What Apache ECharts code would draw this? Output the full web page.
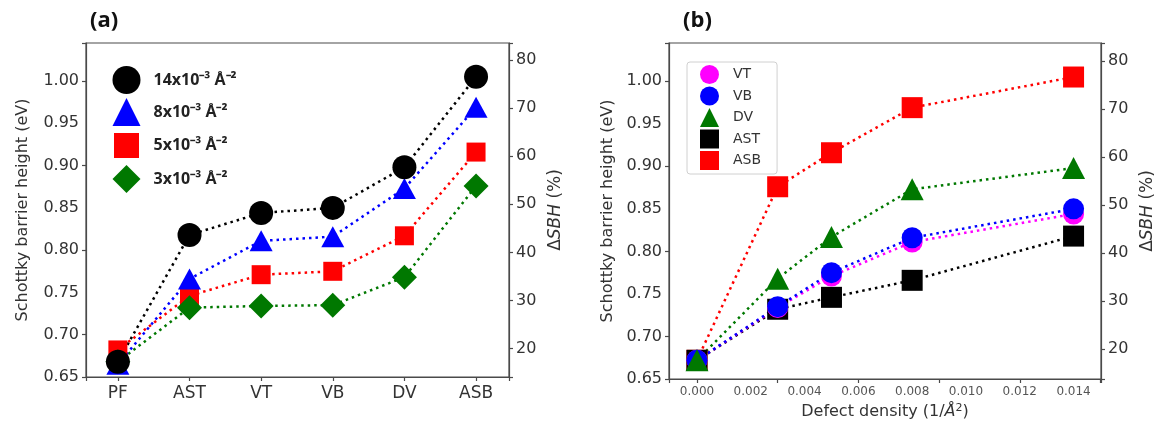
<!DOCTYPE html>
<html>
<head>
<meta charset="utf-8">
<script src="https://cdn.jsdelivr.net/npm/echarts@6/dist/echarts.min.js"></script>
<style>
html,body{margin:0;padding:0;background:#fff;}
#c{width:1157px;height:431px;}
</style>
</head>
<body>
<div id="c"></div>
<script>
// ---- Panel (a): SBH vs defect type ----
const catsA = ['PF', 'AST', 'VT', 'VB', 'DV', 'ASB'];
const a14 = [0.668, 0.818, 0.844, 0.850, 0.898, 1.005];
const a8  = [0.665, 0.766, 0.811, 0.816, 0.873, 0.969];
const a5  = [0.682, 0.746, 0.771, 0.775, 0.817, 0.916];
const a3  = [0.668, 0.732, 0.734, 0.735, 0.768, 0.876];
const namesA = ['14x10⁻³ Å⁻²', '8x10⁻³ Å⁻²', '5x10⁻³ Å⁻²', '3x10⁻³ Å⁻²'];

// ---- Panel (b): SBH vs defect density ----
const namesB = ['VT', 'VB', 'DV', 'AST', 'ASB'];
const densB = [0, 0.003, 0.005, 0.008, 0.014];
const bVT  = [0.672, 0.734, 0.771, 0.811, 0.844];
const bVB  = [0.672, 0.735, 0.775, 0.816, 0.850];
const bDV  = [0.672, 0.768, 0.817, 0.873, 0.898];
const bAST = [0.672, 0.732, 0.746, 0.766, 0.818];
const bASB = [0.672, 0.876, 0.916, 0.969, 1.005];

// tick labels
const sbhTicks = [0.65, 0.70, 0.75, 0.80, 0.85, 0.90, 0.95, 1.00];
const pctTicks = [20, 30, 40, 50, 60, 70, 80];
const densTicks = [0, 0.002, 0.004, 0.006, 0.008, 0.010, 0.012, 0.014];

const pairs = (xs, ys) => ys.map((v, i) => [xs[i], v]);
const idx = catsA.map((c, i) => i);

const FONT = '"DejaVu Sans", sans-serif';
const frameColor = '#4a4a4a';
const dotted = { width: 2.5, type: [2.5, 4], cap: 'butt' };
const RED = '#ff0000', GREEN = '#007800', BLUE = '#0000ff', BLACK = '#000000', MAGENTA = '#ff00ff';
const axLine = { show: true, onZero: false, lineStyle: { color: frameColor, width: 1.2 } };
const tick = { show: true, inside: false, length: 4, lineStyle: { color: frameColor, width: 1.2 } };

function leftAxis(gi) {
  return {
    type: 'value', gridIndex: gi, position: 'left', min: 0.65, max: 1.045,
    name: 'Schottky barrier height (eV)', nameLocation: 'middle', nameRotate: 90,
    nameGap: gi === 0 ? 55 : 53,
    nameTextStyle: { fontFamily: FONT, fontSize: 16, color: '#333' },
    axisLine: axLine,
    axisTick: tick,
    axisLabel: { customValues: sbhTicks, fontFamily: FONT, fontSize: 16, color: '#333', margin: 7,
      formatter: v => v.toFixed(2) },
    splitLine: { show: false }
  };
}
function rightAxis(gi, mn, mx) {
  return {
    type: 'value', gridIndex: gi, position: 'right', min: mn, max: mx,
    name: 'Δ{i|SBH} (%)', nameLocation: 'middle', nameRotate: 90, nameGap: 38,
    nameTextStyle: { fontFamily: FONT, fontSize: 17, color: '#333',
      rich: { i: { fontFamily: FONT, fontSize: 17, fontStyle: 'italic', color: '#333' } } },
    axisLine: axLine,
    axisTick: tick,
    axisLabel: { customValues: pctTicks, fontFamily: FONT, fontSize: 16, color: '#333', margin: 7 },
    splitLine: { show: false }
  };
}

const option = {
  animation: false,
  backgroundColor: '#fff',
  title: [
    { text: '(a)', left: 85, top: 5, textStyle: { fontFamily: '"Open Sans", sans-serif', fontWeight: 'bold', fontSize: 22, color: '#111' } },
    { text: '(b)', left: 678, top: 5, textStyle: { fontFamily: '"Open Sans", sans-serif', fontWeight: 'bold', fontSize: 22, color: '#111' } }
  ],
  grid: [
    { left: 86, top: 43, width: 423, height: 334, show: true, borderColor: frameColor, borderWidth: 1.2, backgroundColor: 'transparent' },
    { left: 669, top: 43, width: 439, height: 336, show: true, borderColor: frameColor, borderWidth: 1.2, backgroundColor: 'transparent' }
  ],
  legend: [
    {
      data: [
        { name: namesA[0], icon: 'circle' },
        { name: namesA[1], icon: 'triangle' },
        { name: namesA[2], icon: 'rect', itemStyle: { borderColor: '#fff', borderWidth: 3 } },
        { name: namesA[3], icon: 'diamond' }
      ],
      orient: 'vertical', left: 106, top: 61,
      itemWidth: 28, itemHeight: 28, itemGap: 4,
      textStyle: { fontFamily: '"Open Sans", sans-serif', fontWeight: 'bold', fontSize: 16, color: '#222', padding: [0, 0, 0, 8] }
    },
    {
      data: [
        { name: namesB[0], icon: 'circle' },
        { name: namesB[1], icon: 'circle' },
        { name: namesB[2], icon: 'triangle' },
        { name: namesB[3], icon: 'rect' },
        { name: namesB[4], icon: 'rect' }
      ],
      orient: 'vertical', left: 687, top: 62,
      itemWidth: 19, itemHeight: 19, itemGap: 2.5, padding: [3, 16, 4, 13],
      borderColor: '#d0d0d0', borderWidth: 1, borderRadius: 3,
      textStyle: { fontFamily: FONT, fontSize: 14, color: '#333', padding: [0, 0, 0, 9] }
    }
  ],
  xAxis: [
    {
      type: 'value', gridIndex: 0, min: -0.445, max: 5.46,
      axisLine: axLine,
      axisTick: tick,
      axisLabel: { customValues: idx, fontFamily: FONT, fontSize: 17, color: '#333', margin: 8,
        formatter: v => catsA[Math.round(v)] },
      splitLine: { show: false }
    },
    {
      type: 'value', gridIndex: 1, min: -0.00104, max: 0.01502,
      name: 'Defect density (1/{i|Å}{s|2})', nameLocation: 'middle', nameGap: 24,
      nameTextStyle: { fontFamily: FONT, fontSize: 16, color: '#333',
        rich: { i: { fontFamily: FONT, fontSize: 16, fontStyle: 'italic', color: '#333' },
                s: { fontFamily: FONT, fontSize: 11, color: '#333', verticalAlign: 'top', padding: [0, 0, 6, 0] } } },
      axisLine: axLine,
      axisTick: tick,
      axisLabel: { customValues: densTicks, fontFamily: FONT, fontSize: 12, color: '#555', margin: 7,
        formatter: v => v.toFixed(3) },
      splitLine: { show: false }
    }
  ],
  yAxis: [
    leftAxis(0), rightAxis(0, 14.1, 83.5),
    leftAxis(1), rightAxis(1, 13.8, 83.7)
  ],
  series: [
    // panel (a) — draw order: red, green, blue, black (black on top)
    { name: namesA[2], type: 'line', xAxisIndex: 0, yAxisIndex: 0, data: pairs(idx, a5),
      symbol: 'rect', symbolSize: 19, itemStyle: { color: RED }, lineStyle: Object.assign({ color: RED }, dotted) },
    { name: namesA[3], type: 'line', xAxisIndex: 0, yAxisIndex: 0, data: pairs(idx, a3),
      symbol: 'diamond', symbolSize: [25, 25], itemStyle: { color: GREEN }, lineStyle: Object.assign({ color: GREEN }, dotted) },
    { name: namesA[1], type: 'line', xAxisIndex: 0, yAxisIndex: 0, data: pairs(idx, a8),
      symbol: 'triangle', symbolSize: [23, 21], itemStyle: { color: BLUE }, lineStyle: Object.assign({ color: BLUE }, dotted) },
    { name: namesA[0], type: 'line', xAxisIndex: 0, yAxisIndex: 0, data: pairs(idx, a14),
      symbol: 'circle', symbolSize: 24, itemStyle: { color: BLACK }, lineStyle: Object.assign({ color: BLACK }, dotted) },

    // panel (b) — draw order: ASB, AST, VT, VB, DV
    { name: 'ASB', type: 'line', xAxisIndex: 1, yAxisIndex: 2, data: pairs(densB, bASB),
      symbol: 'rect', symbolSize: 21, itemStyle: { color: RED }, lineStyle: Object.assign({ color: RED }, dotted) },
    { name: 'AST', type: 'line', xAxisIndex: 1, yAxisIndex: 2, data: pairs(densB, bAST),
      symbol: 'rect', symbolSize: 21, itemStyle: { color: BLACK }, lineStyle: Object.assign({ color: BLACK }, dotted) },
    { name: 'VT', type: 'line', xAxisIndex: 1, yAxisIndex: 2, data: pairs(densB, bVT),
      symbol: 'circle', symbolSize: 21, itemStyle: { color: MAGENTA }, lineStyle: Object.assign({ color: MAGENTA }, dotted) },
    { name: 'VB', type: 'line', xAxisIndex: 1, yAxisIndex: 2, data: pairs(densB, bVB),
      symbol: 'circle', symbolSize: 21, itemStyle: { color: BLUE }, lineStyle: Object.assign({ color: BLUE }, dotted) },
    { name: 'DV', type: 'line', xAxisIndex: 1, yAxisIndex: 2, data: pairs(densB, bDV),
      symbol: 'triangle', symbolSize: [23, 22], itemStyle: { color: GREEN }, lineStyle: Object.assign({ color: GREEN }, dotted) }
  ]
};

const chart = echarts.init(document.getElementById('c'), null, { renderer: 'canvas' });
chart.setOption(option);
</script>
</body>
</html>
